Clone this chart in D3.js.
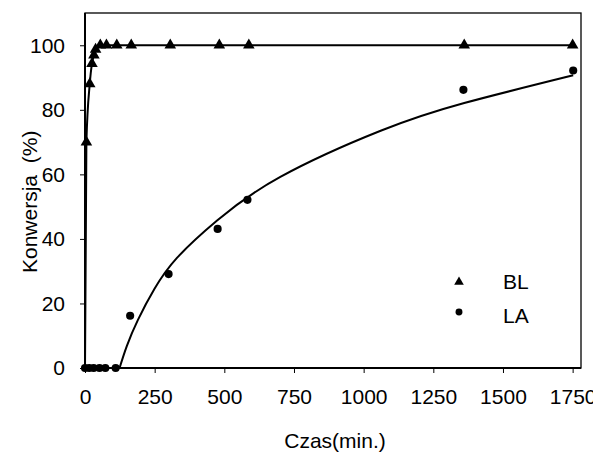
<!doctype html>
<html lang="pl">
<head>
<meta charset="utf-8" />
<title>Konwersja BL / LA</title>
<script src="https://cdn.jsdelivr.net/npm/d3@7"></script>
<style>
  body { margin: 0; background: #fff; }
  svg { display: block; font-family: Arial, "Liberation Sans", sans-serif; }
</style>
</head>
<body>
<script>
// measured points
var blTime = [5, 17, 25, 32, 38, 55, 77, 114, 166, 306, 482, 588, 1361, 1750];
var blConv = [70, 88, 94.3, 96.9, 98.7, 100, 100, 100, 100, 100, 100, 100, 100, 100];
var laTime = [0, 15, 31, 52, 73, 110, 162, 300, 476, 583, 1358, 1752];
var laConv = [0, 0, 0, 0, 0, 0, 16.2, 29.1, 43.1, 52.1, 86.2, 92.2];

// trend lines
var blFitTime = [0, 5, 17, 25, 32, 38, 55, 77, 114, 166, 306, 482, 588, 1361, 1750];
var blFitConv = [0, 70, 88, 94.3, 96.9, 98.7, 100, 100, 100, 100, 100, 100, 100, 100, 100];
var laFitTime = [124, 150, 190, 250, 330, 474, 701, 1061, 1361, 1752];
var laFitConv = [0, 6.8, 14.9, 24.6, 34.1, 45.7, 59.2, 73.5, 82.1, 90.7];

var xTicks = [0, 250, 500, 750, 1000, 1250, 1500, 1750];
var yTicks = [0, 20, 40, 60, 80, 100];
var seriesNames = ["BL", "LA"];

var w = 593, h = 455;
var m = {left: 85, top: 13, right: 581, bottom: 368};

var svg = d3.select("body").append("svg")
  .attr("width", w).attr("height", h);

svg.append("rect").attr("width", w).attr("height", h).attr("fill", "#fff");

var x = d3.scaleLinear().domain([0, 1780]).range([m.left, m.right]);
var y = d3.scaleLinear().domain([0, 110]).range([m.bottom, m.top]);

// axes
var gx = svg.append("g")
  .attr("transform", "translate(0," + m.bottom + ")")
  .call(d3.axisBottom(x).tickValues(xTicks).tickFormat(d3.format("d"))
    .tickSize(5).tickPadding(16).tickSizeOuter(0));
var gy = svg.append("g")
  .attr("transform", "translate(" + m.left + ",0)")
  .call(d3.axisLeft(y).tickValues(yTicks).tickFormat(d3.format("d"))
    .tickSize(5).tickPadding(15).tickSizeOuter(0));

[gx, gy].forEach(function(g) {
  g.select(".domain").remove();
  g.selectAll(".tick line").attr("stroke", "#000").attr("stroke-width", 1);
  g.selectAll(".tick text")
    .attr("fill", "#000")
    .style("font-size", "21px")
    .style("font-family", "Arial, 'Liberation Sans', sans-serif");
});

// plot frame
svg.append("rect")
  .attr("x", m.left).attr("y", m.top)
  .attr("width", m.right - m.left).attr("height", m.bottom - m.top)
  .attr("fill", "none").attr("stroke", "#000").attr("stroke-width", 1.3);
svg.append("path")
  .attr("d", "M" + m.left + "," + m.top + "V" + m.bottom + "H" + m.right)
  .attr("fill", "none").attr("stroke", "#000").attr("stroke-width", 2);

// fit lines
var line = d3.line()
  .x(function(d) { return x(d[0]); })
  .y(function(d) { return y(d[1]); });

svg.append("path")
  .datum(d3.zip(blFitTime, blFitConv))
  .attr("d", line.curve(d3.curveMonotoneX))
  .attr("fill", "none").attr("stroke", "#000").attr("stroke-width", 2);

svg.append("path")
  .datum(d3.zip(laFitTime, laFitConv))
  .attr("d", line.curve(d3.curveNatural))
  .attr("fill", "none").attr("stroke", "#000").attr("stroke-width", 2);

// markers
var tri = d3.symbol().type(d3.symbolTriangle).size(58);
var dot = d3.symbol().type(d3.symbolCircle).size(52);

svg.selectAll("path.bl")
  .data(d3.zip(blTime, blConv))
  .enter().append("path")
  .attr("class", "bl")
  .attr("d", tri)
  .attr("transform", function(d) { return "translate(" + x(d[0]) + "," + y(d[1]) + ")"; })
  .attr("fill", "#000");

svg.selectAll("path.la")
  .data(d3.zip(laTime, laConv))
  .enter().append("path")
  .attr("class", "la")
  .attr("d", dot)
  .attr("transform", function(d) { return "translate(" + x(d[0]) + "," + y(d[1]) + ")"; })
  .attr("fill", "#000");

// legend
var legend = svg.append("g");
legend.append("path")
  .attr("d", d3.symbol().type(d3.symbolTriangle).size(40))
  .attr("transform", "translate(459,282)").attr("fill", "#000");
legend.append("path")
  .attr("d", d3.symbol().type(d3.symbolCircle).size(38))
  .attr("transform", "translate(459,312)").attr("fill", "#000");
legend.selectAll("text")
  .data(seriesNames)
  .enter().append("text")
  .attr("x", 503)
  .attr("y", function(d, i) { return 289 + i * 34; })
  .attr("font-size", "21px")
  .attr("fill", "#000")
  .text(function(d) { return d; });

// axis titles
svg.append("text")
  .attr("x", 335).attr("y", 448)
  .attr("text-anchor", "middle")
  .attr("font-size", "21px")
  .text("Czas(min.)");

svg.append("text")
  .attr("transform", "translate(37,273) rotate(-90)")
  .attr("text-anchor", "start")
  .attr("font-size", "21px")
  .style("white-space", "pre")
  .text("Konwersja  (%)");
</script>
</body>
</html>
